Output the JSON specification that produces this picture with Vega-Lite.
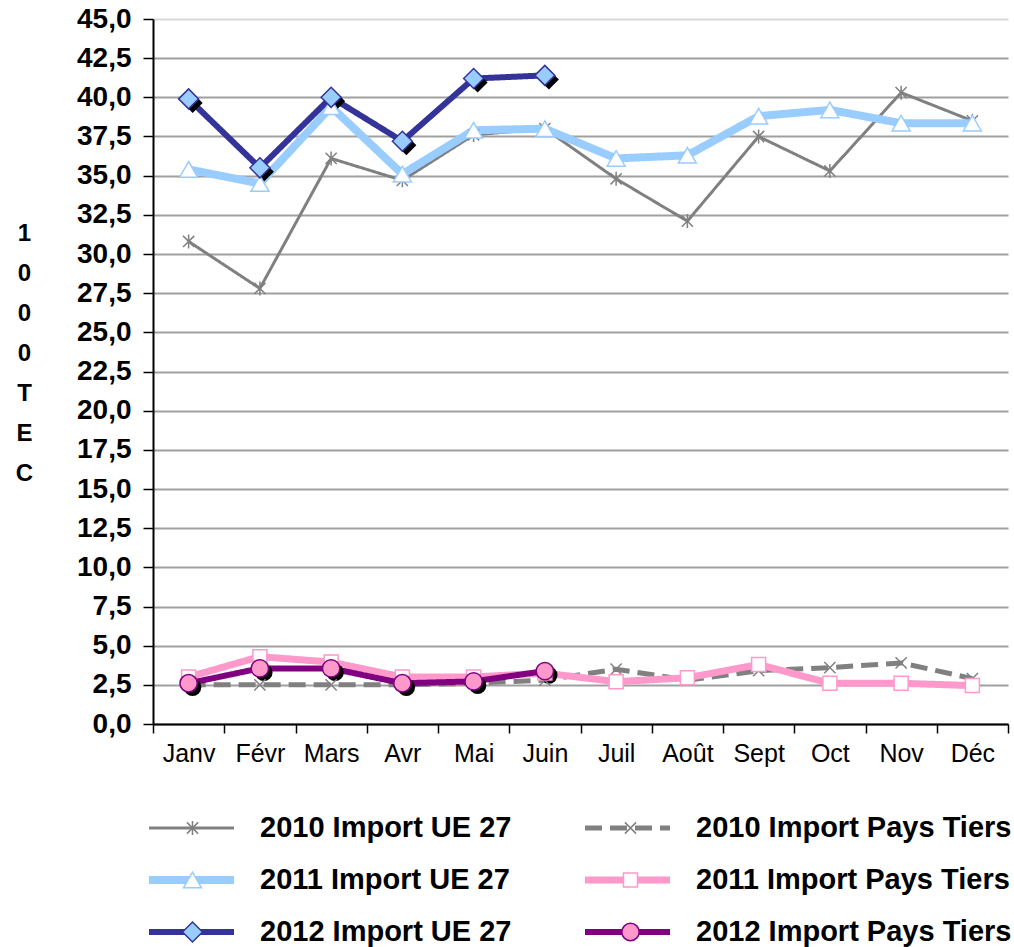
{
  "$schema": "https://vega.github.io/schema/vega-lite/v6.json",
  "width": 855,
  "height": 705,
  "autosize": {"type": "none"},
  "padding": {"left": 153, "top": 19, "right": 6, "bottom": 223},
  "background": "white",
  "config": {
    "view": {"stroke": null},
    "font": "Liberation Sans"
  },
  "data": {
    "values": [
      {"month": "Janv", "series": "2010 Import UE 27", "value": 30.8},
      {"month": "Févr", "series": "2010 Import UE 27", "value": 27.8},
      {"month": "Mars", "series": "2010 Import UE 27", "value": 36.1},
      {"month": "Avr", "series": "2010 Import UE 27", "value": 34.7},
      {"month": "Mai", "series": "2010 Import UE 27", "value": 37.6},
      {"month": "Juin", "series": "2010 Import UE 27", "value": 38.0},
      {"month": "Juil", "series": "2010 Import UE 27", "value": 34.8},
      {"month": "Août", "series": "2010 Import UE 27", "value": 32.1},
      {"month": "Sept", "series": "2010 Import UE 27", "value": 37.5},
      {"month": "Oct", "series": "2010 Import UE 27", "value": 35.3},
      {"month": "Nov", "series": "2010 Import UE 27", "value": 40.3},
      {"month": "Déc", "series": "2010 Import UE 27", "value": 38.5},
      {"month": "Janv", "series": "2010 Import Pays Tiers", "value": 2.5},
      {"month": "Févr", "series": "2010 Import Pays Tiers", "value": 2.5},
      {"month": "Mars", "series": "2010 Import Pays Tiers", "value": 2.5},
      {"month": "Avr", "series": "2010 Import Pays Tiers", "value": 2.5},
      {"month": "Mai", "series": "2010 Import Pays Tiers", "value": 2.6},
      {"month": "Juin", "series": "2010 Import Pays Tiers", "value": 2.8},
      {"month": "Juil", "series": "2010 Import Pays Tiers", "value": 3.5},
      {"month": "Août", "series": "2010 Import Pays Tiers", "value": 2.8},
      {"month": "Sept", "series": "2010 Import Pays Tiers", "value": 3.4},
      {"month": "Oct", "series": "2010 Import Pays Tiers", "value": 3.6},
      {"month": "Nov", "series": "2010 Import Pays Tiers", "value": 3.9},
      {"month": "Déc", "series": "2010 Import Pays Tiers", "value": 2.9},
      {"month": "Janv", "series": "2011 Import UE 27", "value": 35.4},
      {"month": "Févr", "series": "2011 Import UE 27", "value": 34.5},
      {"month": "Mars", "series": "2011 Import UE 27", "value": 39.4},
      {"month": "Avr", "series": "2011 Import UE 27", "value": 35.1},
      {"month": "Mai", "series": "2011 Import UE 27", "value": 37.9},
      {"month": "Juin", "series": "2011 Import UE 27", "value": 38.0},
      {"month": "Juil", "series": "2011 Import UE 27", "value": 36.1},
      {"month": "Août", "series": "2011 Import UE 27", "value": 36.3},
      {"month": "Sept", "series": "2011 Import UE 27", "value": 38.8},
      {"month": "Oct", "series": "2011 Import UE 27", "value": 39.2},
      {"month": "Nov", "series": "2011 Import UE 27", "value": 38.35},
      {"month": "Déc", "series": "2011 Import UE 27", "value": 38.35},
      {"month": "Janv", "series": "2011 Import Pays Tiers", "value": 3.0},
      {"month": "Févr", "series": "2011 Import Pays Tiers", "value": 4.3},
      {"month": "Mars", "series": "2011 Import Pays Tiers", "value": 3.95},
      {"month": "Avr", "series": "2011 Import Pays Tiers", "value": 3.0},
      {"month": "Mai", "series": "2011 Import Pays Tiers", "value": 3.0},
      {"month": "Juin", "series": "2011 Import Pays Tiers", "value": 3.25},
      {"month": "Juil", "series": "2011 Import Pays Tiers", "value": 2.7},
      {"month": "Août", "series": "2011 Import Pays Tiers", "value": 2.95},
      {"month": "Sept", "series": "2011 Import Pays Tiers", "value": 3.8},
      {"month": "Oct", "series": "2011 Import Pays Tiers", "value": 2.6},
      {"month": "Nov", "series": "2011 Import Pays Tiers", "value": 2.6},
      {"month": "Déc", "series": "2011 Import Pays Tiers", "value": 2.45},
      {"month": "Janv", "series": "2012 Import UE 27", "value": 39.9},
      {"month": "Févr", "series": "2012 Import UE 27", "value": 35.5},
      {"month": "Mars", "series": "2012 Import UE 27", "value": 40.0},
      {"month": "Avr", "series": "2012 Import UE 27", "value": 37.2},
      {"month": "Mai", "series": "2012 Import UE 27", "value": 41.2},
      {"month": "Juin", "series": "2012 Import UE 27", "value": 41.4},
      {"month": "Janv", "series": "2012 Import Pays Tiers", "value": 2.6},
      {"month": "Févr", "series": "2012 Import Pays Tiers", "value": 3.55},
      {"month": "Mars", "series": "2012 Import Pays Tiers", "value": 3.55},
      {"month": "Avr", "series": "2012 Import Pays Tiers", "value": 2.6},
      {"month": "Mai", "series": "2012 Import Pays Tiers", "value": 2.72},
      {"month": "Juin", "series": "2012 Import Pays Tiers", "value": 3.38}
    ]
  },
  "encoding": {
    "x": {
      "field": "month",
      "type": "nominal",
      "sort": ["Janv", "Févr", "Mars", "Avr", "Mai", "Juin", "Juil", "Août", "Sept", "Oct", "Nov", "Déc"],
      "scale": {"type": "band", "paddingInner": 0, "paddingOuter": 0},
      "axis": {
        "title": null,
        "labelAngle": 0,
        "labelFont": "Liberation Sans",
        "labelFontSize": 25,
        "labelColor": "black",
        "labelPadding": 8,
        "tickBand": "extent",
        "tickSize": 9,
        "tickColor": "black",
        "tickWidth": 1.5,
        "domainColor": "black",
        "domainWidth": 2,
        "grid": false
      }
    },
    "y": {
      "field": "value",
      "type": "quantitative",
      "scale": {"domain": [0, 45], "nice": false},
      "axis": {
        "values": [0, 2.5, 5, 7.5, 10, 12.5, 15, 17.5, 20, 22.5, 25, 27.5, 30, 32.5, 35, 37.5, 40, 42.5, 45],
        "labelExpr": "replace(format(datum.value, '.1f'), '.', ',')",
        "labelFont": "Liberation Sans",
        "labelFontSize": 28,
        "labelFontWeight": "bold",
        "labelColor": "black",
        "labelPadding": 12,
        "tickSize": 10,
        "tickColor": "black",
        "tickWidth": 1.5,
        "domainColor": "black",
        "domainWidth": 2,
        "gridColor": {"condition": {"test": "datum.value === 45", "value": "#d9d9d9"}, "value": "#a0a0a0"},
        "gridWidth": 2,
        "title": ["1", "0", "0", "0", " ", "T", "E", "C"],
        "titleFont": "Liberation Sans",
        "titleFontSize": 24,
        "titleFontWeight": "bold",
        "titleColor": "black",
        "titleAngle": 0,
        "titleAlign": "center",
        "titleBaseline": "middle",
        "titleLineHeight": 40,
        "titleX": -129,
        "titleY": 214
      }
    }
  },
  "layer": [
    {
      "mark": {"type": "line"},
      "encoding": {
        "stroke": {
          "field": "series",
          "type": "nominal",
          "scale": {
            "domain": ["2010 Import UE 27", "2010 Import Pays Tiers", "2011 Import UE 27", "2011 Import Pays Tiers", "2012 Import UE 27", "2012 Import Pays Tiers"],
            "range": ["#808080", "#808080", "#99ccff", "#ff99cc", "#333399", "#800080"]
          },
          "legend": {
            "orient": "none", "legendX": -8, "legendY": 794, "columns": 2, "direction": "horizontal", "title": null,
            "symbolType": "stroke", "symbolSize": 7225, "labelFont": "Liberation Sans", "labelFontSize": 29,
            "labelFontWeight": "bold", "labelColor": "black", "labelOffset": 22, "labelLimit": 0,
            "columnPadding": 69, "rowPadding": 22, "clipHeight": 30
          }
        },
        "strokeDash": {
          "field": "series",
          "type": "nominal",
          "scale": {
            "domain": ["2010 Import UE 27", "2010 Import Pays Tiers", "2011 Import UE 27", "2011 Import Pays Tiers", "2012 Import UE 27", "2012 Import Pays Tiers"],
            "range": [[1, 0], [17, 8], [1, 0], [1, 0], [1, 0], [1, 0]]
          },
          "legend": {
            "orient": "none", "legendX": -8, "legendY": 794, "columns": 2, "direction": "horizontal", "title": null,
            "symbolType": "stroke", "symbolSize": 7225, "labelFont": "Liberation Sans", "labelFontSize": 29,
            "labelFontWeight": "bold", "labelColor": "black", "labelOffset": 22, "labelLimit": 0,
            "columnPadding": 69, "rowPadding": 22, "clipHeight": 30
          }
        },
        "strokeWidth": {
          "field": "series",
          "type": "nominal",
          "scale": {
            "type": "ordinal",
            "domain": ["2010 Import UE 27", "2010 Import Pays Tiers", "2011 Import UE 27", "2011 Import Pays Tiers", "2012 Import UE 27", "2012 Import Pays Tiers"],
            "range": [3, 5, 8, 7, 6, 6]
          },
          "legend": {
            "orient": "none", "legendX": -8, "legendY": 794, "columns": 2, "direction": "horizontal", "title": null,
            "symbolType": "stroke", "symbolSize": 7225, "labelFont": "Liberation Sans", "labelFontSize": 29,
            "labelFontWeight": "bold", "labelColor": "black", "labelOffset": 22, "labelLimit": 0,
            "columnPadding": 69, "rowPadding": 22, "clipHeight": 30
          }
        }
      }
    },
    {
      "transform": [{"filter": "datum.series === '2012 Import UE 27'"}],
      "mark": {"type": "point", "shape": "diamond", "filled": true, "color": "black", "opacity": 1, "size": 400, "xOffset": 4, "yOffset": 4}
    },
    {
      "transform": [{"filter": "datum.series === '2012 Import Pays Tiers'"}],
      "mark": {"type": "point", "shape": "circle", "filled": true, "color": "black", "opacity": 1, "size": 300, "xOffset": 4, "yOffset": 4}
    },
    {
      "mark": {"type": "point", "filled": true, "opacity": 1, "strokeWidth": 1.5},
      "encoding": {
        "stroke": {
          "field": "series",
          "type": "nominal",
          "scale": {
            "domain": ["2010 Import UE 27", "2010 Import Pays Tiers", "2011 Import UE 27", "2011 Import Pays Tiers", "2012 Import UE 27", "2012 Import Pays Tiers"],
            "range": ["#808080", "#808080", "#99ccff", "#ff99cc", "#333399", "#800080"]
          },
          "legend": {
            "orient": "none", "legendX": -8, "legendY": 794, "columns": 2, "direction": "horizontal", "title": null,
            "symbolOffset": 33, "labelExpr": "''", "labelFontSize": 29, "labelOffset": 55, "labelLimit": 0,
            "columnPadding": 321, "rowPadding": 22, "symbolStrokeWidth": 1.5, "clipHeight": 30
          }
        },
        "fill": {
          "field": "series",
          "type": "nominal",
          "scale": {
            "domain": ["2010 Import UE 27", "2010 Import Pays Tiers", "2011 Import UE 27", "2011 Import Pays Tiers", "2012 Import UE 27", "2012 Import Pays Tiers"],
            "range": ["#808080", "#808080", "#ffffff", "#ffffff", "#99ccff", "#ff99cc"]
          },
          "legend": {
            "orient": "none", "legendX": -8, "legendY": 794, "columns": 2, "direction": "horizontal", "title": null,
            "symbolOffset": 33, "labelExpr": "''", "labelFontSize": 29, "labelOffset": 55, "labelLimit": 0,
            "columnPadding": 321, "rowPadding": 22, "symbolStrokeWidth": 1.5, "clipHeight": 30
          }
        },
        "shape": {
          "field": "series",
          "type": "nominal",
          "scale": {
            "domain": ["2010 Import UE 27", "2010 Import Pays Tiers", "2011 Import UE 27", "2011 Import Pays Tiers", "2012 Import UE 27", "2012 Import Pays Tiers"],
            "range": ["M0,-1L0,1M-0.8,-0.8L0.8,0.8M-0.8,0.8L0.8,-0.8", "M-0.8,-0.8L0.8,0.8M-0.8,0.8L0.8,-0.8", "triangle-up", "square", "diamond", "circle"]
          },
          "legend": {
            "orient": "none", "legendX": -8, "legendY": 794, "columns": 2, "direction": "horizontal", "title": null,
            "symbolOffset": 33, "labelExpr": "''", "labelFontSize": 29, "labelOffset": 55, "labelLimit": 0,
            "columnPadding": 321, "rowPadding": 22, "symbolStrokeWidth": 1.5, "clipHeight": 30
          }
        },
        "size": {
          "field": "series",
          "type": "nominal",
          "scale": {
            "type": "ordinal",
            "domain": ["2010 Import UE 27", "2010 Import Pays Tiers", "2011 Import UE 27", "2011 Import Pays Tiers", "2012 Import UE 27", "2012 Import Pays Tiers"],
            "range": [196, 196, 324, 196, 400, 300]
          },
          "legend": {
            "orient": "none", "legendX": -8, "legendY": 794, "columns": 2, "direction": "horizontal", "title": null,
            "symbolOffset": 33, "labelExpr": "''", "labelFontSize": 29, "labelOffset": 55, "labelLimit": 0,
            "columnPadding": 321, "rowPadding": 22, "symbolStrokeWidth": 1.5, "clipHeight": 30
          }
        }
      }
    }
  ],
  "resolve": {
    "scale": {"stroke": "independent", "fill": "independent", "shape": "independent", "size": "independent", "strokeDash": "independent", "strokeWidth": "independent"},
    "legend": {"stroke": "independent", "fill": "independent", "shape": "independent", "size": "independent", "strokeDash": "independent", "strokeWidth": "independent"}
  }
}
